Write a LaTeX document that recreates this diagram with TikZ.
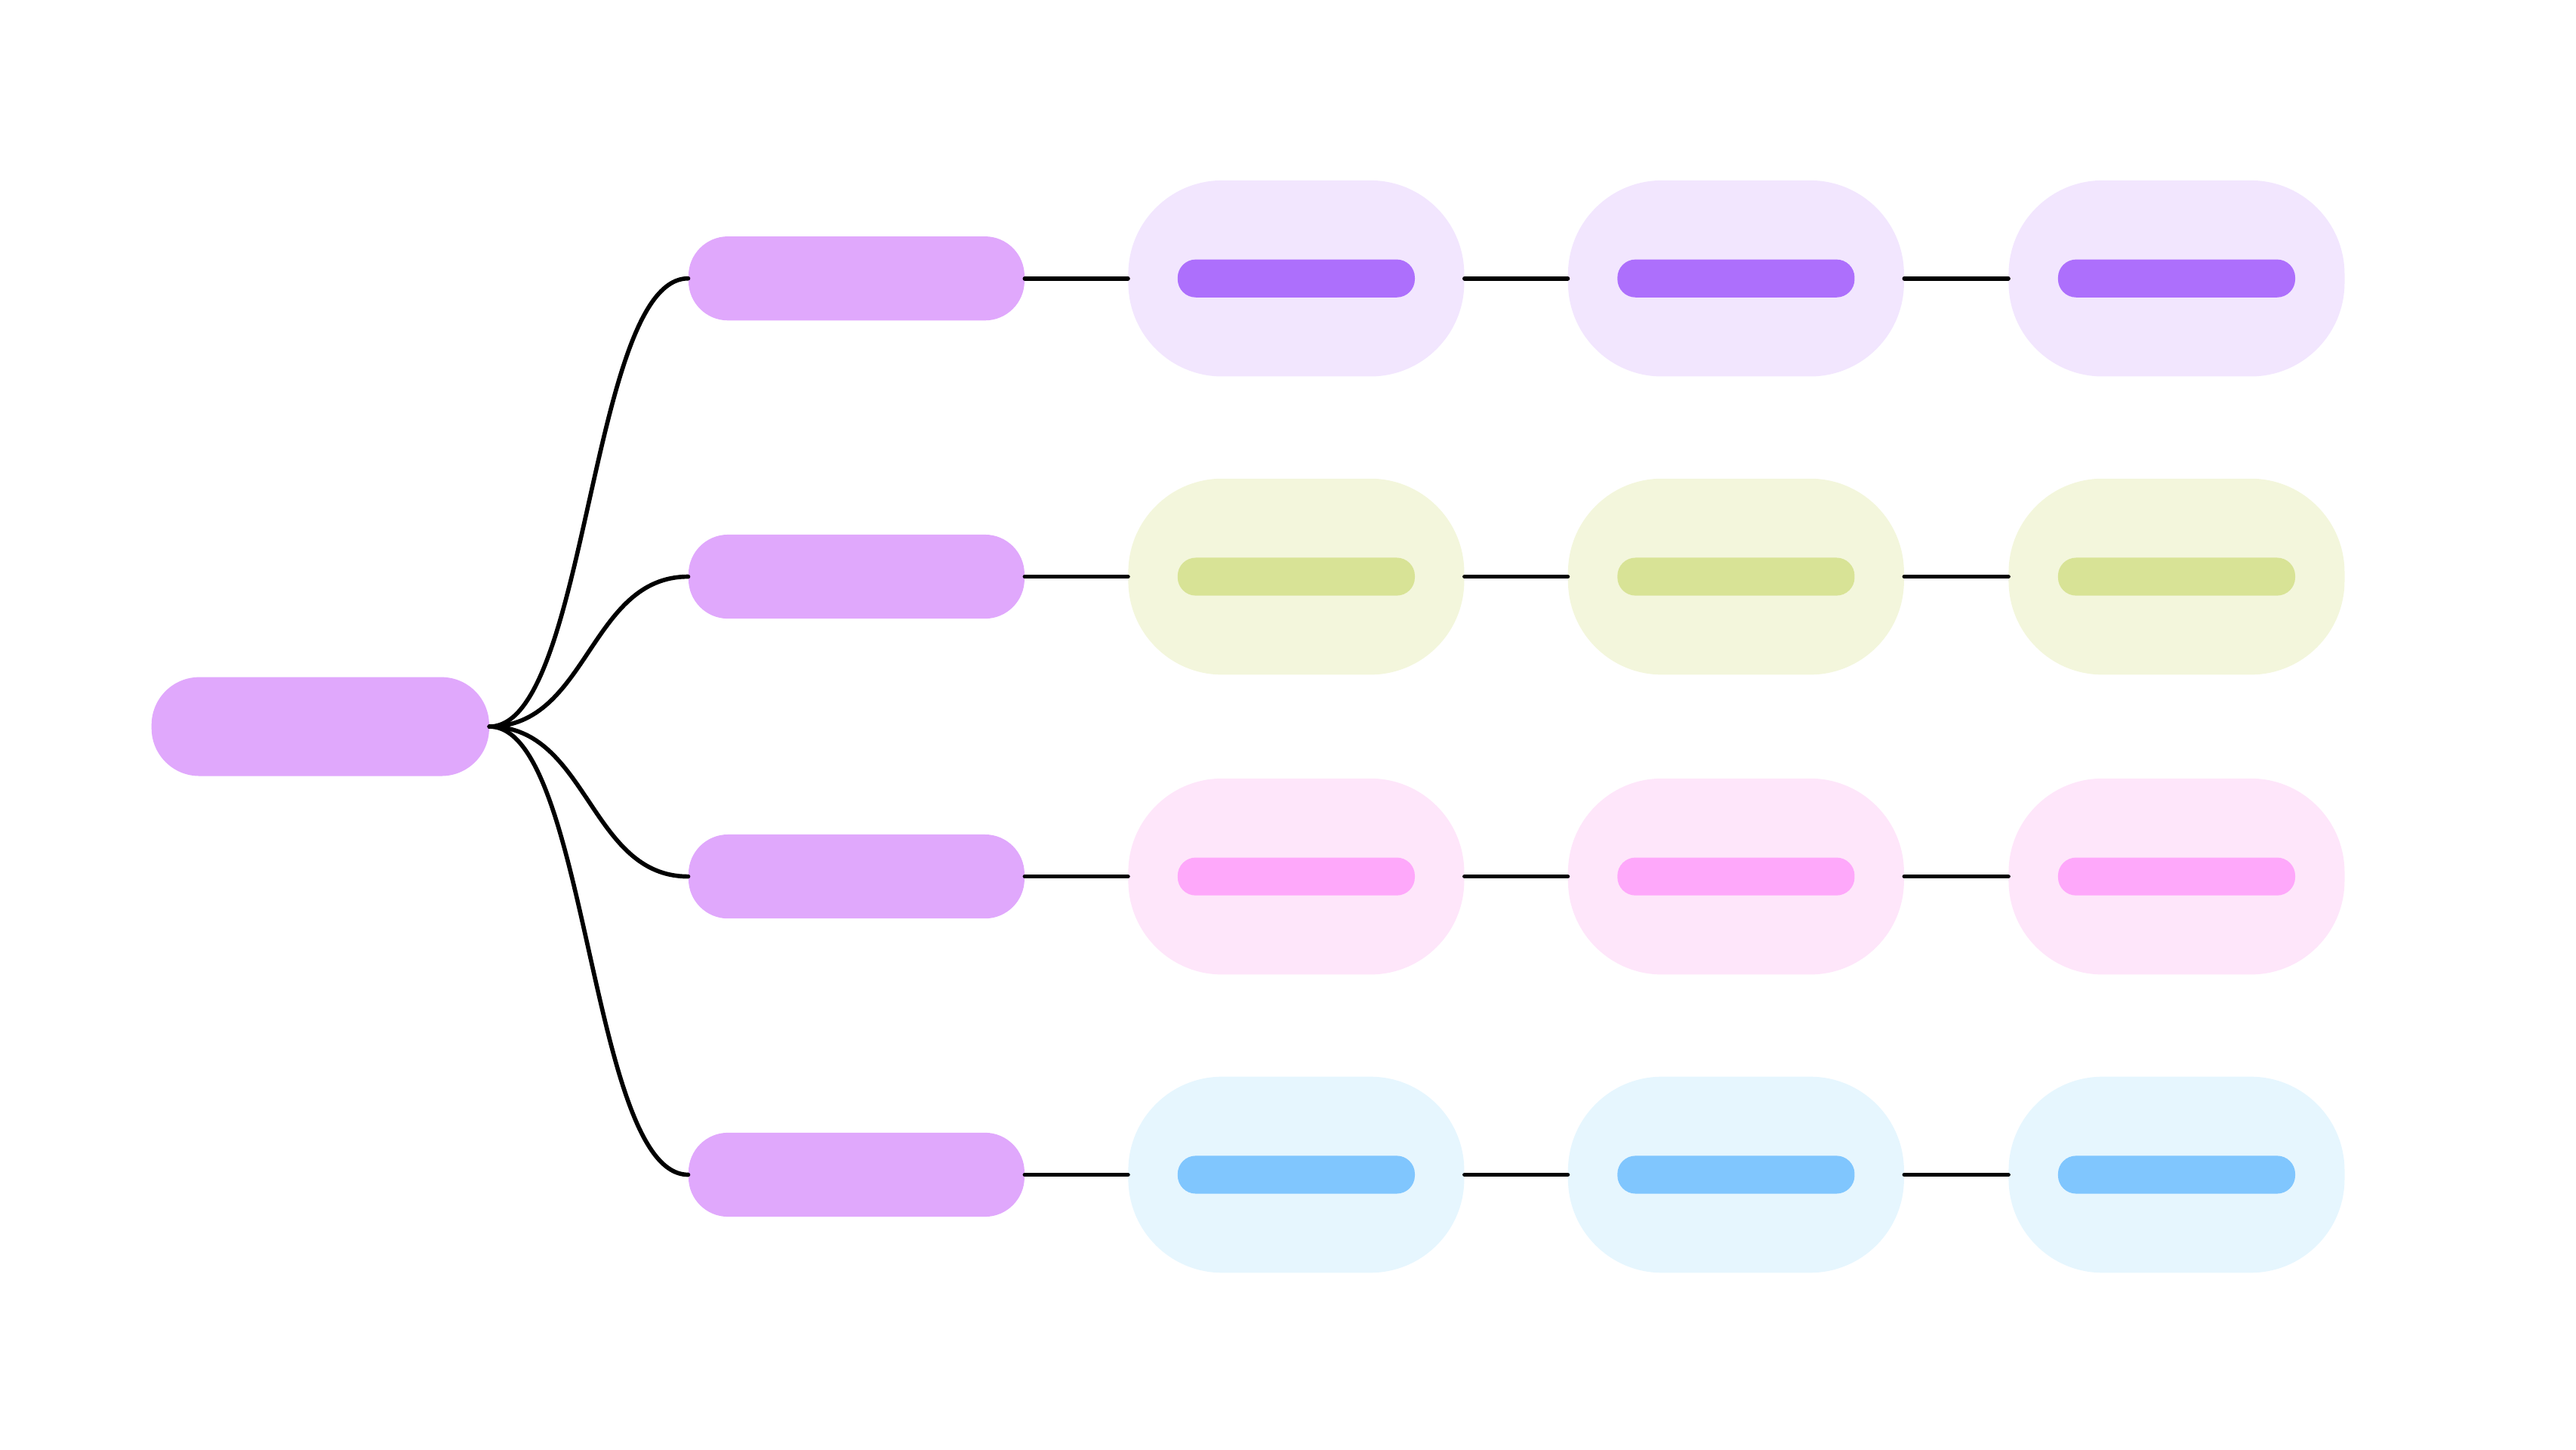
\documentclass[tikz,border=0pt]{standalone}
\definecolor{rootc}{HTML}{E0A8FC}
\definecolor{ca}{HTML}{F2E6FE}\definecolor{ba}{HTML}{AD6FFC}
\definecolor{cb}{HTML}{F3F6DC}\definecolor{bb}{HTML}{D8E396}
\definecolor{cc}{HTML}{FEE6FA}\definecolor{bc}{HTML}{FEA8FA}
\definecolor{cd}{HTML}{E6F6FE}\definecolor{bd}{HTML}{80C6FE}
\tikzset{
 rootbox/.style={fill=rootc,minimum width=205pt,minimum height=60pt,rounded corners=29pt,inner sep=0pt},
 lonebox/.style={fill=rootc,minimum width=204pt,minimum height=51pt,rounded corners=24pt,inner sep=0pt},
 contbox/.style={minimum width=204pt,minimum height=119pt,rounded corners=57pt,inner sep=0pt},
 barbox/.style={minimum width=144pt,minimum height=23pt,rounded corners=11pt,inner sep=0pt},
 conn/.style={line width=2.6pt,line cap=round}
}
\begin{document}
\begin{tikzpicture}[x=1pt,y=-1pt]
\useasboundingbox (0,0) rectangle (1564,880);
\node[rootbox] (root) at (194.5,441) {};
\foreach \r/\y/\c/\b in {1/169/ca/ba,2/350/cb/bb,3/532/cc/bc,4/713/cd/bd}{
  \node[lonebox] (l\r) at (520,\y) {};
  \draw[conn] (root.east) .. controls (357,441) and (358,\y) .. (l\r.west);
  \foreach \k/\x in {1/787,2/1054,3/1321.5}{
    \node[contbox,fill=\c] (c\r\k) at (\x,\y) {};
    \node[barbox,fill=\b] (b\r\k) at (\x,\y) {};
  }
  \draw[conn] (l\r.east) -- (c\r1.west);
  \draw[conn] (c\r1.east) -- (c\r2.west);
  \draw[conn] (c\r2.east) -- (c\r3.west);
}
\end{tikzpicture}
\end{document}
